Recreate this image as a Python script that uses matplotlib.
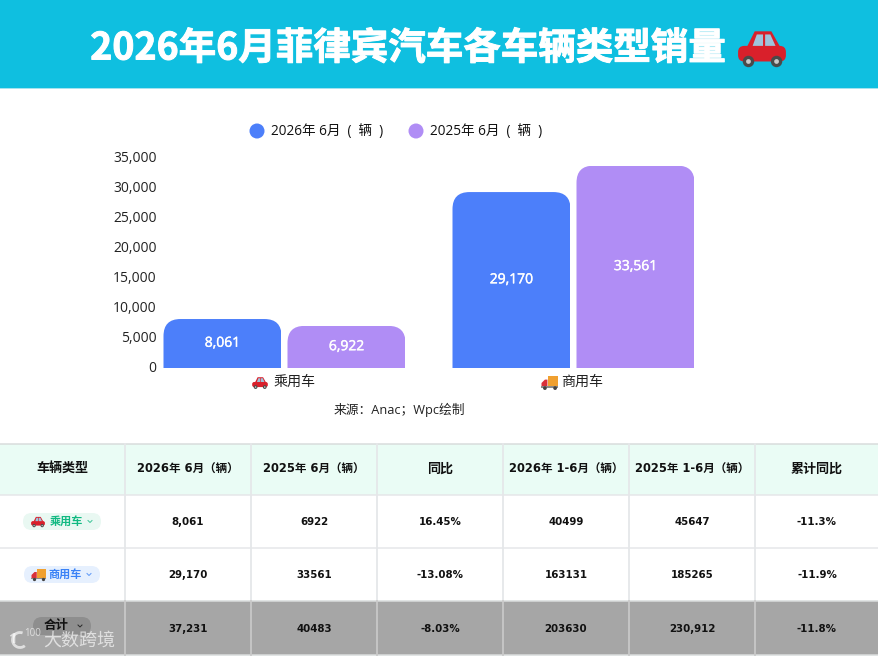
import matplotlib
matplotlib.use("Agg")
import matplotlib.pyplot as plt
import matplotlib.patheffects as pe
from matplotlib.patches import Rectangle, FancyBboxPatch, Circle, Polygon, Ellipse, Arc
from matplotlib.transforms import IdentityTransform, ScaledTranslation

plt.rcParams['font.family'] = ['Open Sans', 'Noto Sans CJK SC', 'DejaVu Sans']

title = "2026年6月菲律宾汽车各车辆类型销量"
categories = ["乘用车", "商用车"]
series_names = ["2026年 6月  (  辆  )", "2025年 6月  (  辆  )"]
values_2026 = [8061, 29170]
values_2025 = [6922, 33561]
y_ticks = [0, 5000, 10000, 15000, 20000, 25000, 30000, 35000]
source = "来源：Anac；Wpc绘制"
table_header = ["车辆类型", "2026年 6月（辆）", "2025年 6月（辆）", "同比",
                "2026年 1-6月（辆）", "2025年 1-6月（辆）", "累计同比"]
row_labels = ["乘用车", "商用车", "合计"]
row_passenger = ["8,061", "6922", "16.45%", "40499", "45647", "-11.3%"]
row_commercial = ["29,170", "33561", "-13.08%", "163131", "185265", "-11.9%"]
row_total = ["37,231", "40483", "-8.03%", "203630", "230,912", "-11.8%"]

W, H = 879, 657
BLUE, PURPLE = "#4c7ffa", "#b08df5"
fig = plt.figure(figsize=(W / 100, H / 100), dpi=100, facecolor="white")
ov = fig.add_axes([0, 0, 1, 1], zorder=0)
ov.set_xlim(0, W); ov.set_ylim(H, 0); ov.axis("off")


def car(cx, cy, w, z=5):
    s = w / 50
    ov.add_patch(FancyBboxPatch((cx - 23*s, cy - 3*s), 46*s, 15*s, boxstyle=f"round,pad=0,rounding_size={6*s}",
                                fc="#d9202b", ec="none", zorder=z))
    ov.add_patch(Polygon([(cx-15*s, cy-1*s), (cx-7*s, cy-17*s), (cx+9*s, cy-17*s), (cx+18*s, cy-1*s)],
                         closed=True, fc="#d9202b", ec="none", zorder=z))
    ov.add_patch(Polygon([(cx-9*s, cy-3*s), (cx-5*s, cy-14*s), (cx+1*s, cy-14*s), (cx+1*s, cy-3*s)],
                         closed=True, fc="#9fc4dc", ec="none", zorder=z+1))
    ov.add_patch(Polygon([(cx+3*s, cy-3*s), (cx+3*s, cy-14*s), (cx+8*s, cy-14*s), (cx+13*s, cy-3*s)],
                         closed=True, fc="#9fc4dc", ec="none", zorder=z+1))
    for dx in (-13, 14):
        ov.add_patch(Circle((cx + dx*s, cy + 12*s), 5.5*s, fc="#4a4a4a", ec="none", zorder=z+1))
        ov.add_patch(Circle((cx + dx*s, cy + 12*s), 2.3*s, fc="#c9c9c9", ec="none", zorder=z+2))


def truck(cx, cy, w, z=5):
    s = w / 20
    ov.add_patch(Rectangle((cx - 2*s, cy - 8*s), 12*s, 12*s, fc="#f0a030", ec="none", zorder=z))
    ov.add_patch(Polygon([(cx-10*s, cy+4*s), (cx-10*s, cy), (cx-6*s, cy-4*s), (cx-3*s, cy-4*s), (cx-3*s, cy+4*s)],
                         closed=True, fc="#d9303a", ec="none", zorder=z))
    ov.add_patch(Rectangle((cx-10*s, cy+4*s), 20*s, 1.6*s, fc="#8a8a8a", ec="none", zorder=z))
    for dx in (-6, 6):
        ov.add_patch(Circle((cx + dx*s, cy + 6*s), 2.2*s, fc="#444444", ec="none", zorder=z+1))


# Header band
ov.add_patch(Rectangle((0, 0), W, 88, fc="#0fbfe0", ec="none"))
ov.add_patch(Rectangle((0, 87.5), W, 1.5, fc="#a5e3ef", ec="none"))
ov.text(408, 48, title, color="white", fontsize=27, fontweight="bold", ha="center", va="center",
        family=['Noto Sans CJK SC'],
        path_effects=[pe.withStroke(linewidth=0.7, foreground="white")])
car(762, 49, 52)

# Legend
for x, col, name in [(257, BLUE, series_names[0]), (416, PURPLE, series_names[1])]:
    ov.add_patch(Ellipse((x, 131), 15, 15, fc=col, ec="none"))
    ov.text(x + 14, 131, name, fontsize=9.8, color="#111111", ha="left", va="center")

# Chart
ax = fig.add_axes([140 / W, (H - 367.5) / H, 578 / W, 210.5 / H], zorder=2)
ax.patch.set_alpha(0)
for sp in ax.spines.values():
    sp.set_visible(False)
ax.set_xlim(-0.5, 1.5)
ax.set_ylim(0, 35000)
ax.set_yticks(y_ticks, [f"{v:,}" for v in y_ticks], fontsize=10, color="#222222")
ax.tick_params(axis="y", length=0, pad=-12)
lift = ScaledTranslation(0, 1 / 100, fig.dpi_scale_trans)
for lab in ax.get_yticklabels():
    lab.set_transform(lab.get_transform() + lift)
ax.set_xticks([])
xs = range(len(categories))
BW, OFF = 118 / 289, 62 / 289
bars = []
drop = ScaledTranslation(0, -1 / 100, fig.dpi_scale_trans)
for vals, col, off in [(values_2026, BLUE, -OFF), (values_2025, PURPLE, OFF)]:
    bc = ax.bar([x + off for x in xs], vals, width=BW, color=col, linewidth=0)
    bars.append(bc)
    labs = ax.bar_label(bc, labels=[f"{v:,}" for v in vals], label_type="center", color="white", fontsize=10,
                        fontweight="medium")
    for t in labs:
        t.set_path_effects([pe.withStroke(linewidth=0.3, foreground="white")])
fig.canvas.draw()
for bc in bars:
    for r in bc:
        bb = r.get_window_extent()
        clip = FancyBboxPatch((bb.x0, bb.y0 - 40), bb.width, bb.height + 40,
                              boxstyle="round,pad=0,rounding_size=17", transform=IdentityTransform())
        r.set_clip_path(clip)

car(260, 383, 17)
ov.text(274, 382, categories[0], fontsize=10.1, color="#222222", ha="left", va="center")
truck(550, 383, 17)
ov.text(561, 382, categories[1], fontsize=10.1, color="#222222", ha="left", va="center")
ov.text(399.5, 410, source, fontsize=9.2, color="#222222", ha="center", va="center")

# Table
col_edges = [0, 125, 251, 377, 503, 629, 755, 879]
row_edges = [444, 494.5, 548, 600.5, 655]
GRID = "#e5e7e9"
ov.add_patch(Rectangle((0, row_edges[0]), W, row_edges[1] - row_edges[0], fc="#eafcf5", ec="none"))
ov.add_patch(Rectangle((0, row_edges[3]), W, row_edges[4] - row_edges[3], fc="#a6a6a6", ec="none"))
for y in row_edges:
    ov.plot([0, W], [y, y], color="#d9dcdc" if y in (444, 600.5, 655) else GRID, lw=1.1, zorder=3)
for x in col_edges[1:-1]:
    ov.plot([x, x], [row_edges[0], row_edges[3]], color=GRID, lw=1.3, zorder=3)
    ov.plot([x, x], [row_edges[3], row_edges[4]], color="#c8c8c8", lw=1.3, zorder=3)

TF = dict(fontweight="bold", color="#111111", ha="center", va="center", zorder=6,
          family=['DejaVu Sans', 'Noto Sans CJK SC'])
ycent = [(row_edges[i] + row_edges[i + 1]) / 2 for i in range(4)]
for i, t in enumerate(table_header):
    size = 8.3 if any(c.isdigit() for c in t) else 9.4
    ov.text((col_edges[i] + col_edges[i + 1]) / 2, ycent[0], t, fontsize=size, **TF)
for r, row in enumerate([row_passenger, row_commercial, row_total]):
    for i, t in enumerate(row):
        ov.text((col_edges[i + 1] + col_edges[i + 2]) / 2, ycent[r + 1] + 1, t, fontsize=7.4, **TF)

# Pills
pills = [(23, 513, 78, 17, "#e9f8f2", "#10b981", 66, 8, 521.5),
         (24, 566, 76, 17, "#e6f0fe", "#3b82f6", 65, 8, 574.5),
         (33, 617, 58, 18, "#8e8e8e", "#111111", 56, 9, 626)]
for (x, y, w, h, bg, fg, tx, fs, ty), lab in zip(pills, row_labels):
    ov.add_patch(FancyBboxPatch((x, y), w, h, boxstyle=f"round,pad=0,rounding_size={h/2}", fc=bg, ec="none", zorder=4))
    ov.text(tx, ty, lab, fontsize=fs, fontweight="bold", color=fg,
            ha="center", va="center", zorder=6, family=['Noto Sans CJK SC'])
    cx = x + w - 11
    ov.plot([cx - 2, cx, cx + 2], [y + h/2 - 1, y + h/2 + 1, y + h/2 - 1], color=fg, lw=0.7, alpha=0.8, zorder=6)
car(38, 522, 15, z=6)
truck(39, 575, 15, z=6)

# Watermark
wm = dict(color="white", alpha=0.65, va="center", zorder=8)
ov.text(8, 639, "1", fontsize=11, fontweight="bold", ha="left", **wm)
ov.add_patch(Arc((20, 640), 15, 15, theta1=50, theta2=290, color="white", alpha=0.65, lw=2, zorder=8))
ov.text(24, 634, "100", fontsize=7, ha="left", **wm)
ov.text(43, 641, "大数跨境", fontsize=13, ha="left", family=['Noto Sans CJK SC'], **wm)

fig.savefig("out.png", dpi=100, facecolor="white")
